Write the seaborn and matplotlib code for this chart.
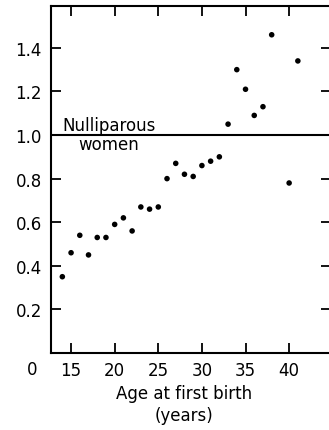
import matplotlib
matplotlib.use("Agg")
import matplotlib.pyplot as plt
import seaborn as sns
import pandas as pd

ages = [14, 15, 16, 17, 18, 19, 20, 21, 22, 23, 24, 25, 26, 27, 28, 29, 30, 31, 32,
        33, 34, 35, 36, 37, 38, 40, 41]
risk = [0.35, 0.46, 0.54, 0.45, 0.53, 0.53, 0.59, 0.62, 0.56, 0.67, 0.66, 0.67,
        0.80, 0.87, 0.82, 0.81, 0.86, 0.88, 0.90,
        1.05, 1.30, 1.21, 1.09, 1.13, 1.46, 0.78, 1.34]
xticks = [15, 20, 25, 30, 35, 40]
yticks = [0.2, 0.4, 0.6, 0.8, 1.0, 1.2, 1.4]
ytick_labels = ["0.2", "0.4", "0.6", "0.8", "1.0", "1.2", "1.4"]
reference_level = 1.0

df = pd.DataFrame({"age": ages, "risk": risk})

sns.set_theme(style="white")
plt.rcParams['font.family'] = ['DejaVu Sans']

W, H = 329, 431
fig = plt.figure(figsize=(W / 100, H / 100), dpi=100)
ax = fig.add_axes([51 / W, (H - 354) / H, (331 - 51) / W, (354 - 7) / H])

ax.axhline(reference_level, color="black", lw=1.5, zorder=1)
sns.scatterplot(data=df, x="age", y="risk", ax=ax, color="black", s=16,
                edgecolor="none", zorder=3)

ax.set_xlim(12.7, 44.8)
ax.set_ylim(0, 1.592)
ax.set_xticks(xticks)
ax.set_xticklabels([str(t) for t in xticks])
ax.set_yticks(yticks)
ax.set_yticklabels(ytick_labels)
ax.set_xlabel("")
ax.set_ylabel("")

for side in ["left", "bottom", "top"]:
    ax.spines[side].set_visible(True)
    ax.spines[side].set_color("black")
    ax.spines[side].set_linewidth(1.5)
ax.spines["right"].set_visible(False)

ax.tick_params(axis="both", which="both", direction="in", length=7, width=1.3,
               color="black", labelsize=12, labelcolor="black",
               top=True, right=True, bottom=True, left=True,
               labeltop=False, labelright=False)
ax.tick_params(axis="y", pad=6.5)
ax.tick_params(axis="x", pad=6)

ax.text(19.35, 1.023, "Nulliparous", ha="center", va="baseline", fontsize=12,
        color="black")
ax.text(19.35, 0.936, "women", ha="center", va="baseline", fontsize=12,
        color="black")

fig.text(32 / W, 1 - 370 / H, "0", ha="center", va="center", fontsize=12,
         color="black")
fig.text(184 / W, 1 - 385 / H, "Age at first birth\n(years)", ha="center",
         va="top", fontsize=12, linespacing=1.3, color="black")

fig.savefig("out.png", dpi=100)
